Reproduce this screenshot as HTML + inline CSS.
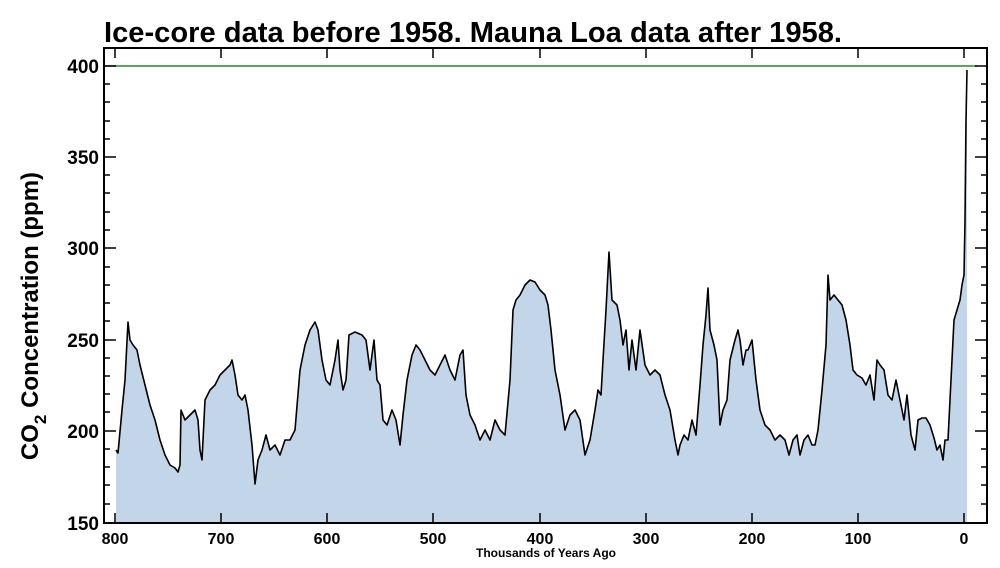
<!DOCTYPE html>
<html><head><style>
body{margin:0;background:#fff;}
svg text{font-family:"Liberation Sans",sans-serif;font-weight:bold;}
</style></head><body>
<svg width="1000" height="563" viewBox="0 0 1000 563" xmlns="http://www.w3.org/2000/svg">
<text x="104" y="42" font-size="29" textLength="738" lengthAdjust="spacingAndGlyphs">Ice-core data before 1958. Mauna Loa data after 1958.</text>
<polygon fill="#c3d5e9" stroke="none" points="116,523 116,450 118,453 122,410 125,380 128,322 130,340 133,345 137,350 140,365 145,385 150,405 155,420 160,440 165,455 170,465 175,468 178,472 180,465 181,410 185,420 190,415 195,410 198,420 200,450 202,460 205,400 210,390 215,385 220,375 225,370 230,365 232,360 235,375 238,395 242,400 245,395 248,410 252,445 255,484 258,460 262,450 266,435 270,450 275,445 280,455 285,440 290,440 295,430 300,370 305,345 310,330 315,322 318,330 322,360 326,380 330,385 335,360 338,340 340,370 343,390 346,380 349,335 355,332 362,335 366,340 370,370 374,340 377,380 380,385 383,420 387,425 392,410 396,420 400,445 403,415 407,380 412,355 416,345 420,350 425,360 430,370 435,375 440,365 445,355 450,370 455,380 460,355 463,350 466,395 470,415 475,425 480,440 485,430 490,440 495,420 500,430 505,435 510,380 513,310 516,300 520,295 525,285 530,280 535,282 540,290 545,295 548,305 551,330 555,370 560,395 565,430 570,415 575,410 580,420 585,455 590,440 595,410 598,390 601,395 603,360 606,310 609,252 612,300 617,305 620,320 623,345 626,330 629,370 632,340 636,370 640,330 645,365 650,375 655,370 660,375 665,395 670,410 675,440 678,455 680,445 684,435 688,440 692,420 696,435 700,385 703,345 706,315 708,288 710,330 714,345 717,360 720,425 723,410 727,400 730,360 735,340 738,330 740,340 743,365 746,350 748,350 752,340 756,380 760,410 765,425 770,430 775,440 780,435 785,440 789,455 793,440 797,435 800,455 804,440 808,435 812,445 815,445 818,430 822,390 826,345 828,275 830,300 834,295 838,300 842,305 846,320 850,345 853,370 857,375 862,378 866,385 870,375 874,400 877,360 880,365 884,370 888,395 892,400 896,380 900,400 904,420 907,395 911,435 915,450 918,420 922,418 926,418 930,425 934,438 937,450 940,445 943,460 945,440 948,440 951,380 954,320 957,310 960,300 962,285 964,275 965,220 966,120 967,70 967,523"/>
<polyline fill="none" stroke="#000" stroke-width="1.6" stroke-linejoin="round" points="116,450 118,453 122,410 125,380 128,322 130,340 133,345 137,350 140,365 145,385 150,405 155,420 160,440 165,455 170,465 175,468 178,472 180,465 181,410 185,420 190,415 195,410 198,420 200,450 202,460 205,400 210,390 215,385 220,375 225,370 230,365 232,360 235,375 238,395 242,400 245,395 248,410 252,445 255,484 258,460 262,450 266,435 270,450 275,445 280,455 285,440 290,440 295,430 300,370 305,345 310,330 315,322 318,330 322,360 326,380 330,385 335,360 338,340 340,370 343,390 346,380 349,335 355,332 362,335 366,340 370,370 374,340 377,380 380,385 383,420 387,425 392,410 396,420 400,445 403,415 407,380 412,355 416,345 420,350 425,360 430,370 435,375 440,365 445,355 450,370 455,380 460,355 463,350 466,395 470,415 475,425 480,440 485,430 490,440 495,420 500,430 505,435 510,380 513,310 516,300 520,295 525,285 530,280 535,282 540,290 545,295 548,305 551,330 555,370 560,395 565,430 570,415 575,410 580,420 585,455 590,440 595,410 598,390 601,395 603,360 606,310 609,252 612,300 617,305 620,320 623,345 626,330 629,370 632,340 636,370 640,330 645,365 650,375 655,370 660,375 665,395 670,410 675,440 678,455 680,445 684,435 688,440 692,420 696,435 700,385 703,345 706,315 708,288 710,330 714,345 717,360 720,425 723,410 727,400 730,360 735,340 738,330 740,340 743,365 746,350 748,350 752,340 756,380 760,410 765,425 770,430 775,440 780,435 785,440 789,455 793,440 797,435 800,455 804,440 808,435 812,445 815,445 818,430 822,390 826,345 828,275 830,300 834,295 838,300 842,305 846,320 850,345 853,370 857,375 862,378 866,385 870,375 874,400 877,360 880,365 884,370 888,395 892,400 896,380 900,400 904,420 907,395 911,435 915,450 918,420 922,418 926,418 930,425 934,438 937,450 940,445 943,460 945,440 948,440 951,380 954,320 957,310 960,300 962,285 964,275 965,220 966,120 967,70"/>
<line x1="104" y1="66" x2="977" y2="66" stroke="#2a8a2a" stroke-width="1.6"/>
<rect x="104" y="48" width="883" height="475" fill="none" stroke="#000" stroke-width="2"/>
<g stroke="#000" stroke-width="1.5">
<path d="M104,66h12M104,157h12M104,248h12M104,340h12M104,431h12M987,66h-12M987,157h-12M987,248h-12M987,340h-12M987,431h-12"/>
<path d="M104,84h6M104,102h6M104,121h6M104,139h6M104,175h6M104,193h6M104,212h6M104,230h6M104,267h6M104,285h6M104,303h6M104,321h6M104,358h6M104,376h6M104,394h6M104,412h6M104,449h6M104,467h6M104,485h6M104,504h6
M987,84h-6M987,102h-6M987,121h-6M987,139h-6M987,175h-6M987,193h-6M987,212h-6M987,230h-6M987,267h-6M987,285h-6M987,303h-6M987,321h-6M987,358h-6M987,376h-6M987,394h-6M987,412h-6M987,449h-6M987,467h-6M987,485h-6M987,504h-6"/>
<path d="M115,523v-10M221,523v-10M327,523v-10M433,523v-10M540,523v-10M646,523v-10M752,523v-10M858,523v-10M964,523v-10
M115,48v10M221,48v10M327,48v10M433,48v10M540,48v10M646,48v10M752,48v10M858,48v10M964,48v10"/>
</g>
<g font-size="19" text-anchor="end">
<text x="99" y="73">400</text>
<text x="99" y="164">350</text>
<text x="99" y="255">300</text>
<text x="99" y="347">250</text>
<text x="99" y="438">200</text>
<text x="99" y="530">150</text>
</g>
<g font-size="16" text-anchor="middle">
<text x="115" y="544">800</text>
<text x="221" y="544">700</text>
<text x="327" y="544">600</text>
<text x="433" y="544">500</text>
<text x="540" y="544">400</text>
<text x="646" y="544">300</text>
<text x="752" y="544">200</text>
<text x="858" y="544">100</text>
<text x="964" y="544">0</text>
</g>
<text x="546" y="557" font-size="12" text-anchor="middle">Thousands of Years Ago</text>
<text transform="translate(38,316) rotate(-90)" font-size="24" text-anchor="middle">CO<tspan font-size="17" dy="8">2</tspan><tspan dy="-8"> Concentration (ppm)</tspan></text>
</svg>
</body></html>
